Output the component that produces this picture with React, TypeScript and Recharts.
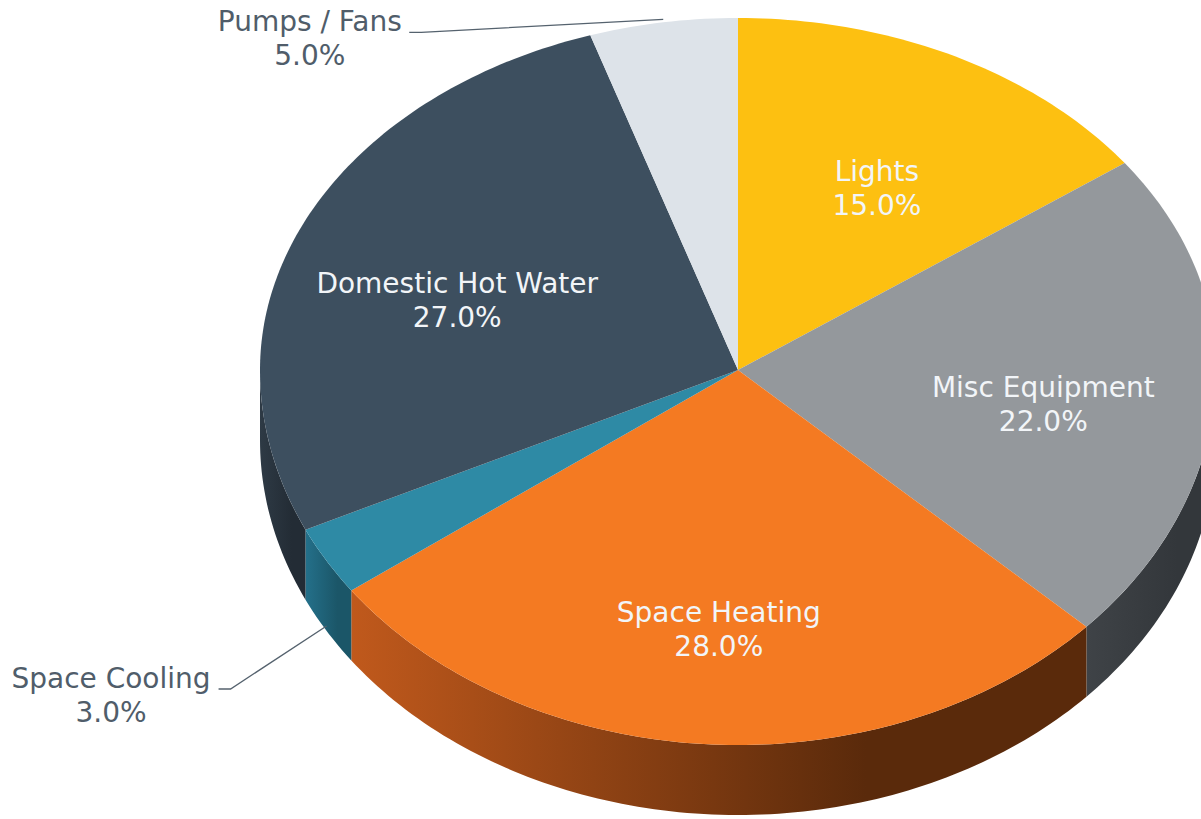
import { PieChart, Pie } from "recharts";

const categories = [
  "Lights",
  "Misc Equipment",
  "Space Heating",
  "Space Cooling",
  "Domestic Hot Water",
  "Pumps / Fans",
];
const shares = [15, 22, 28, 3, 27, 5];
const topColors = ["#fdc011", "#94989c", "#f47a22", "#2e8aa5", "#3d4f5f", "#dde3e9"];
const sideColors = [
  ["#c99a0c", "#8d6c08"],
  ["#3f4347", "#33373b"],
  ["#c0591c", "#5a2a0b"],
  ["#24708a", "#1b5668"],
  ["#2e3a45", "#232c35"],
  ["#b2b8bd", "#8d9398"],
];

const pieData = categories.map((name, i) => ({
  name,
  value: shares[i],
  fill: topColors[i],
}));

// 3D look: squashed ellipse, slightly taller in front (perspective)
const TOP_RATIO = 352 / 478;
const BOT_RATIO = 375 / 478;
const DEPTH = 70;
const FONT = "DejaVu Sans, Verdana, sans-serif";
const FS = 28;
const RAD = Math.PI / 180;

const pt = (cx: number, cy: number, rx: number, a: number, f = 1) => {
  const s = Math.sin(a * RAD);
  const ry = rx * (s > 0 ? TOP_RATIO : BOT_RATIO);
  return [cx + rx * f * Math.cos(a * RAD), cy - ry * f * s];
};

const arc = (cx: number, cy: number, rx: number, a1: number, a2: number, dy = 0) => {
  const n = Math.max(2, Math.ceil(Math.abs(a2 - a1)));
  const out: number[][] = [];
  for (let k = 0; k <= n; k++) {
    const [x, y] = pt(cx, cy, rx, a1 + ((a2 - a1) * k) / n);
    out.push([x, y + dy]);
  }
  return out;
};

const toPath = (pts: number[][]) =>
  "M" + pts.map((p) => `${p[0].toFixed(2)},${p[1].toFixed(2)}`).join(" L") + " Z";

const Slice3D = (props: any) => {
  const { cx, cy, outerRadius, startAngle, endAngle, fill } = props;
  const name = props.payload?.name ?? props.name;
  const idx = categories.indexOf(name);
  const hi = Math.max(startAngle, endAngle);
  const lo = Math.min(startAngle, endAngle);
  const top = [[cx, cy], ...arc(cx, cy, outerRadius, startAngle, endAngle)];
  const s1 = Math.min(hi, 0);
  const s2 = Math.max(lo, -180);
  const gid = `side-grad-${idx}`;
  let side = null;
  if (s1 > s2) {
    const upper = arc(cx, cy, outerRadius, s1, s2);
    const lower = arc(cx, cy, outerRadius, s2, s1, DEPTH);
    side = <path d={toPath([...upper, ...lower])} fill={`url(#${gid})`} />;
  }
  const [c1, c2] = sideColors[idx] ?? ["#666", "#333"];
  return (
    <g>
      <defs>
        <linearGradient id={gid} x1="0" y1="0" x2="0.7" y2="0">
          <stop offset="0%" stopColor={c1} />
          <stop offset="100%" stopColor={c2} />
        </linearGradient>
      </defs>
      {side}
      <path d={toPath(top)} fill={fill} />
    </g>
  );
};

const renderLabel = (props: any) => {
  const { cx, cy, midAngle, outerRadius, value } = props;
  const name = props.payload?.name ?? props.name;
  const pct = `${Number(value).toFixed(1)}%`;
  if (value >= 6) {
    const s = Math.sin(midAngle * RAD);
    const ry = outerRadius * (s > 0 ? TOP_RATIO : BOT_RATIO);
    const x = cx + outerRadius * 0.64 * Math.cos(midAngle * RAD);
    const y = cy + 20 - ry * 0.64 * s;
    return (
      <text
        x={x}
        y={y}
        fill="#f2f5f8"
        fontFamily={FONT}
        fontSize={FS}
        textAnchor="middle"
      >
        <tspan x={x} dy={-8}>{name}</tspan>
        <tspan x={x} dy={34}>{pct}</tspan>
      </text>
    );
  }
  const s = Math.sin(midAngle * RAD);
  const [ex, ey0] = pt(cx, cy, outerRadius, midAngle);
  const front = s < 0;
  const ey = front ? ey0 + DEPTH * 0.93 : ey0 - 3;
  const endX = ex + (front ? -110 : -256);
  const ty = ey + (front ? 53 : 3);
  const half = name.length * FS * 0.29;
  const mid = endX - half;
  return (
    <g>
      <polyline
        points={`${endX + 2},${ty + 10} ${endX + 14},${ty + 10} ${ex},${ey}`}
        fill="none"
        stroke="#55626e"
        strokeWidth={1.3}
      />
      <text x={mid} y={ty} fill="#505d6a" fontFamily={FONT} fontSize={FS} textAnchor="middle">
        <tspan x={mid} dy={9}>{name}</tspan>
        <tspan x={mid} dy={34}>{pct}</tspan>
      </text>
    </g>
  );
};

export default function App() {
  return (
    <div style={{ position: "absolute", left: 0, top: 0, width: 1201, height: 819, background: "#fff" }}>
      <PieChart width={1201} height={819} margin={{ top: 0, right: 0, bottom: 0, left: 0 }}>
        <Pie
          data={pieData}
          dataKey="value"
          nameKey="name"
          cx={738}
          cy={370}
          outerRadius={478}
          startAngle={90}
          endAngle={-270}
          stroke="none"
          shape={Slice3D}
          activeShape={Slice3D}
          label={renderLabel}
          labelLine={false}
          isAnimationActive={false}
        />
      </PieChart>
    </div>
  );
}
